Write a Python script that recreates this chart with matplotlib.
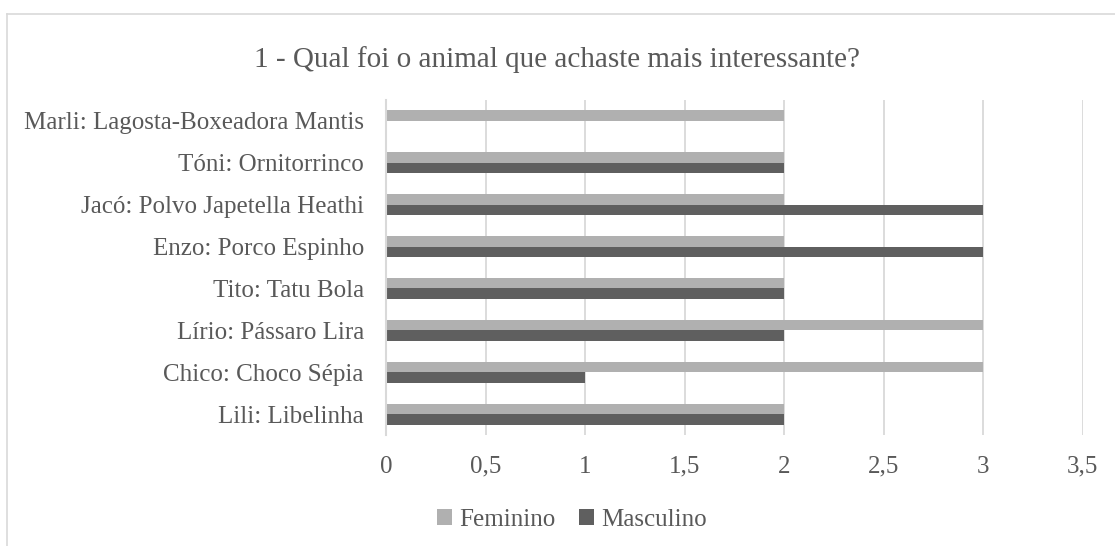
import matplotlib.pyplot as plt
from matplotlib.lines import Line2D
import numpy as np

# respostas por animal (de baixo para cima, como no eixo)
animais = ['Lili: Libelinha', 'Chico: Choco Sépia', 'Lírio: Pássaro Lira',
           'Tito: Tatu Bola', 'Enzo: Porco Espinho', 'Jacó: Polvo Japetella Heathi',
           'Tóni: Ornitorrinco', 'Marli: Lagosta-Boxeadora Mantis']
feminino = [2, 3, 3, 2, 2, 2, 2, 2]
masculino = [2, 1, 2, 2, 3, 3, 2, 0]
ticks_x = [0, 0.5, 1, 1.5, 2, 2.5, 3, 3.5]

cor_fem = '#b0b0b0'
cor_masc = '#5f5f5f'
cor_texto = '#595959'
cor_grelha = '#d9d9d9'

plt.rcParams['font.family'] = ['Liberation Serif', 'DejaVu Serif']

fig = plt.figure(figsize=(11.15, 5.46), dpi=100)
ax = fig.add_axes([386 / 1115, 1 - 435 / 546, (1082.5 - 386) / 1115, 335 / 546])

y = np.arange(len(animais))
h = 0.25
ax.barh(y + h / 2, feminino, height=h, color=cor_fem, label='Feminino', zorder=3)
ax.barh(y - h / 2, masculino, height=h, color=cor_masc, label='Masculino', zorder=3)

ax.set_xlim(0, 3.5)
ax.set_ylim(-0.5, len(animais) - 0.5)
ax.set_xticks(ticks_x)
ax.set_xticklabels([str(t).replace('.', ',') for t in ticks_x])
ax.set_yticks(y)
ax.set_yticklabels(animais)
ax.tick_params(axis='both', length=0, labelsize=18, labelcolor=cor_texto)
ax.tick_params(axis='y', pad=16)
ax.tick_params(axis='x', pad=15)
ax.grid(axis='x', color=cor_grelha, linewidth=1.3, zorder=0)
for lado in ['top', 'right', 'bottom']:
    ax.spines[lado].set_visible(False)
ax.spines['left'].set_color(cor_grelha)
ax.spines['left'].set_linewidth(1.5)
ax.spines['left'].set_zorder(4)

fig.text(0.5, 1 - 60 / 546, '1 - Qual foi o animal que achaste mais interessante?',
         ha='center', va='center', fontsize=21, color=cor_texto)

fig.legend(loc='center', bbox_to_anchor=(572 / 1115, 1 - 520 / 546), ncol=2,
           frameon=False, fontsize=18, labelcolor=cor_texto,
           handlelength=0.6, handleheight=0.6, handletextpad=0.3, columnspacing=0.95)

# moldura do gráfico
x0, y0 = 7 / 1115, 1 - 14 / 546
fig.add_artist(Line2D([x0, x0], [0, y0], color=cor_grelha, linewidth=1.2))
fig.add_artist(Line2D([x0, 1], [y0, y0], color=cor_grelha, linewidth=1.2))

fig.savefig('out.png', dpi=100)
